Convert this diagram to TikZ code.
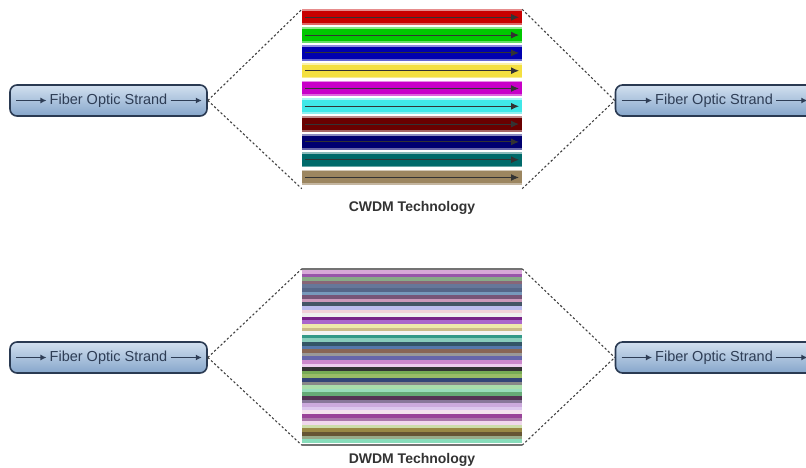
\documentclass[tikz,border=0pt]{standalone}
\usepackage{fontspec}
\setmainfont{Liberation Sans}
\usetikzlibrary{positioning,arrows.meta}
\definecolor{fiberedge}{HTML}{2A3A52}
\definecolor{fibertop}{HTML}{D2E0EF}
\definecolor{fiberbot}{HTML}{86A6CB}
\definecolor{fiberink}{HTML}{2E3D55}
\tikzset{
  fiber/.style={draw=fiberedge,line width=1.6pt,rounded corners=7pt,
    top color=fibertop,bottom color=fiberbot,minimum width=197pt,minimum height=31pt},
  fibertext/.style={font=\fontsize{14.5}{16}\selectfont,text=fiberink,inner sep=3pt},
  fiberarrow/.style={-{Latex[length=6pt,width=6pt]},line width=1.5pt,draw=fiberink},
  link/.style={dash pattern=on 2.2pt off 2.2pt,line width=1.1pt,draw=black!75},
  wave/.style={-{Latex[length=8pt,width=7pt]},line width=1pt,draw=black!80},
  bandbox/.style={minimum width=220pt,inner sep=0pt},
  caption/.style={font=\fontsize{14}{16}\selectfont\bfseries,text=black!80}
}
\begin{document}
\begin{tikzpicture}[x=1pt,y=-1pt]
\useasboundingbox (0,0) rectangle (806,468);
\clip (0,0) rectangle (806,468);
% CWDM
\foreach \c [count=\i from 0] in {C80000,00C800,0000B0,F4E040,C800C8,40E8E8,6A0000,000070,006A6A,9C8660}{
  \definecolor{band}{HTML}{\c}
  \fill[band] (302,{9.5+17.8*\i}) rectangle (522,{25+17.8*\i});
  \fill[band!45!white] (302,{9.5+17.8*\i}) rectangle (522,{11.3+17.8*\i});
  \fill[band!60!white] (302,{23.2+17.8*\i}) rectangle (522,{25+17.8*\i});
  \draw[wave] (305,{17.3+17.8*\i}) -- (519,{17.3+17.8*\i});
}
\node[bandbox,minimum height=179pt] (cwdm) at (412,99) {};
\node[caption,below=9pt of cwdm] (cwdmcap) {CWDM Technology};
%
\node[fiber] (lf1) at (108.5,100.5) {};
\node[fibertext] (lt1) at (lf1) {Fiber Optic Strand};
\draw[fiberarrow] ([xshift=7pt]lf1.west) -- (lt1.west);
\draw[fiberarrow] (lt1.east) -- ([xshift=-6pt]lf1.east);
\node[fiber] (rf1) at (714,100.5) {};
\node[fibertext] (rt1) at (rf1) {Fiber Optic Strand};
\draw[fiberarrow] ([xshift=7pt]rf1.west) -- (rt1.west);
\draw[fiberarrow] (rt1.east) -- ([xshift=-6pt]rf1.east);
%
\draw[link] (lf1.east) -- (cwdm.north west);
\draw[link] (lf1.east) -- (cwdm.south west);
\draw[link] (cwdm.north east) -- (rf1.west);
\draw[link] (cwdm.south east) -- (rf1.west);
% DWDM
\foreach \c [count=\i from 0] in {D8A8D8,9955AA,88AA88,886677,667799,556688,7799BB,775577,CC99BB,445566,
  BBBBEE,F0D0D8,EEEEEE,772288,AA66CC,EEE8AA,CCBB88,F4F4F4,339988,88CCBB,
  335566,5577AA,886655,999999,6666AA,CC88CC,EECCEE,333333,77AA55,99BB66,
  334477,888888,AADDAA,99DDBB,66AA77,553355,887799,CCAADD,DDC8EE,F4E4EE,
  994499,AA77AA,F0D8EC,CCDDAA,998844,665533,99AA88,88DDBB}{
  \definecolor{band}{HTML}{\c}
  \fill[band] (302,{270+3.6*\i}) rectangle (522,{273.7+3.6*\i});
}
\node[bandbox,minimum height=176pt] (dwdm) at (412,357) {};
\draw[line width=1.5pt,draw=black!55] (dwdm.north west) -- (dwdm.north east);
\draw[line width=1.5pt,draw=black!55] (dwdm.south west) -- (dwdm.south east);
\node[caption,below=5pt of dwdm] (dwdmcap) {DWDM Technology};
%
\node[fiber] (lf2) at (108.5,357.5) {};
\node[fibertext] (lt2) at (lf2) {Fiber Optic Strand};
\draw[fiberarrow] ([xshift=7pt]lf2.west) -- (lt2.west);
\draw[fiberarrow] (lt2.east) -- ([xshift=-6pt]lf2.east);
\node[fiber] (rf2) at (714,357.5) {};
\node[fibertext] (rt2) at (rf2) {Fiber Optic Strand};
\draw[fiberarrow] ([xshift=7pt]rf2.west) -- (rt2.west);
\draw[fiberarrow] (rt2.east) -- ([xshift=-6pt]rf2.east);
%
\draw[link] (lf2.east) -- (dwdm.north west);
\draw[link] (lf2.east) -- (dwdm.south west);
\draw[link] (dwdm.north east) -- (rf2.west);
\draw[link] (dwdm.south east) -- (rf2.west);
\end{tikzpicture}
\end{document}
